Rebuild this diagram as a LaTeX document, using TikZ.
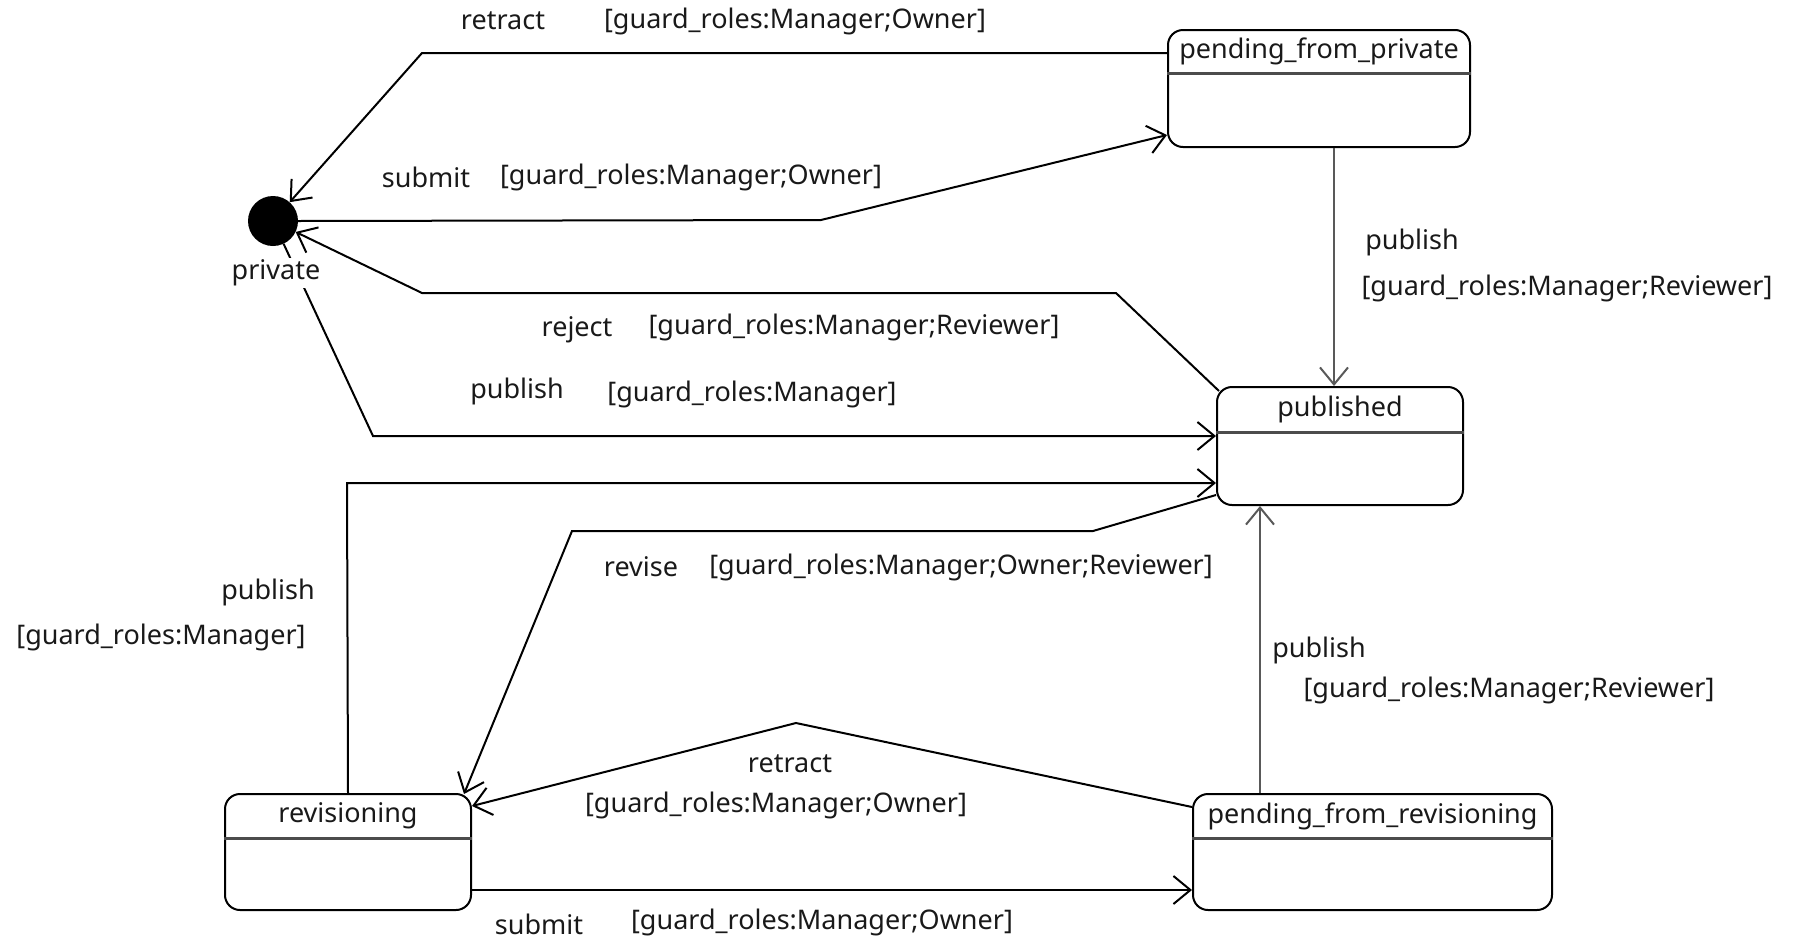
\documentclass[tikz,border=0pt]{standalone}
\usepackage{fontspec}
\setmainfont{Noto Sans}
\usetikzlibrary{arrows.meta}
\tikzset{
  state/.style={draw, rounded corners=15pt, line width=2pt, inner sep=0pt},
  title/.style={font=\fontsize{27}{32}\selectfont, text=black!90, inner sep=0pt},
  lbl/.style={font=\fontsize{27}{32}\selectfont, text=black!90, inner sep=0pt},
  conn/.style={line width=2pt, -{Straight Barb[length=17pt,width=28pt,line width=2pt]}},
  gconn/.style={conn, draw=black!65},
  divider/.style={line width=3pt, draw=black!70},
}
\begin{document}
\begin{tikzpicture}[x=1pt,y=-1pt]
\useasboundingbox (0,0) rectangle (1813,943);
% states
\node[state, minimum width=302pt, minimum height=117pt] (pfp) at (1319,88.5) {};
\node[title] (pfpT) at (1319,51) {pending\_from\_private};
\draw[divider] (pfp.west |- 0,73) -- (pfp.east |- 0,73);

\node[state, minimum width=246pt, minimum height=118pt] (pub) at (1340,446) {};
\node[title] (pubT) at (1340,409) {published};
\draw[divider] (pub.west |- 0,432) -- (pub.east |- 0,432);

\node[state, minimum width=246pt, minimum height=116pt] (rev) at (348,852) {};
\node[title] (revT) at (348,816) {revisioning};
\draw[divider] (rev.west |- 0,838) -- (rev.east |- 0,838);

\node[state, minimum width=359pt, minimum height=116pt] (pfr) at (1372.5,852) {};
\node[title] (pfrT) at (1372.5,816) {pending\_from\_revisioning};
\draw[divider] (pfr.west |- 0,838) -- (pfr.east |- 0,838);

\node[circle, fill=black, minimum size=50pt, inner sep=0pt] (priv) at (273,221) {};

% connectors
\draw[conn] (pfp.west |- 0,53) -- (422,53) -- (priv);
\draw[conn] (priv.east) -- (821,220) -- (pfp.west |- 0,135);
\draw[conn] ([shift={(3,5)}]pub.north west) -- (1116,293) -- (422,293) -- (priv);
\draw[conn] (priv) -- (373,436) -- (pub.west |- 0,436);
\draw[gconn] (pfp.south -| 1334,0) -- (pub.north -| 1334,0);
\draw[conn] (rev.north) -- (347,483) -- (pub.west |- 0,483);
\draw[conn] (pub.west |- 0,495) -- (1093,531) -- (572,531) -- ([shift={(-8,1)}]rev.north east);
\draw[gconn] (pfr.north -| 1260,0) -- (pub.south -| 1260,0);
\draw[conn] (pfr.west |- 0,807) -- (796,723) -- (rev.east |- 0,806);
\draw[conn] (rev.east |- 0,890) -- (pfr.west |- 0,890);

% labels
\node[lbl, fill=white, inner sep=2pt] (privL) at (276,273) {private};
\node[lbl] (l1a) at (503,21) {retract};
\node[lbl] (l1b) at (795,21) {[guard\_roles:Manager;Owner]};
\node[lbl] (l2a) at (426,177) {submit};
\node[lbl] (l2b) at (691,177) {[guard\_roles:Manager;Owner]};
\node[lbl] (l3a) at (577,330) {reject};
\node[lbl] (l3b) at (854,327) {[guard\_roles:Manager;Reviewer]};
\node[lbl] (l4a) at (517,391) {publish};
\node[lbl] (l4b) at (752,394) {[guard\_roles:Manager]};
\node[lbl] (l5a) at (1412,242) {publish};
\node[lbl] (l5b) at (1567,288) {[guard\_roles:Manager;Reviewer]};
\node[lbl] (l6a) at (268,592) {publish};
\node[lbl] (l6b) at (161,637) {[guard\_roles:Manager]};
\node[lbl] (l7a) at (641,567) {revise};
\node[lbl] (l7b) at (961,567) {[guard\_roles:Manager;Owner;Reviewer]};
\node[lbl] (l8a) at (1319,650) {publish};
\node[lbl] (l8b) at (1509,690) {[guard\_roles:Manager;Reviewer]};
\node[lbl] (l9a) at (790,764) {retract};
\node[lbl] (l9b) at (776,805) {[guard\_roles:Manager;Owner]};
\node[lbl] (l10a) at (539,924) {submit};
\node[lbl] (l10b) at (822,922) {[guard\_roles:Manager;Owner]};
\end{tikzpicture}
\end{document}
